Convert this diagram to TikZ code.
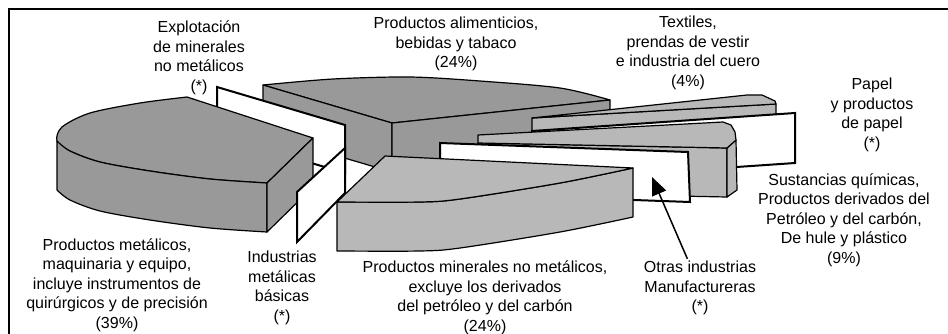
\documentclass[tikz,border=0pt]{standalone}
\usepackage{fontspec}
\setmainfont{Liberation Sans}
\usetikzlibrary{arrows.meta}
\definecolor{piedark}{gray}{0.6}
\definecolor{pielight}{gray}{0.72}
\tikzstyle{dark} = [draw, fill=piedark, line width=1.2pt, line join=round]
\tikzstyle{light} = [draw, fill=pielight, line width=1.2pt, line join=round]
\tikzstyle{panel} = [draw, fill=white, line width=2pt]
\tikzstyle{txt} = [align=center, font=\fontsize{16}{19.5}\selectfont, inner sep=2pt]
\tikzstyle{line} = [draw, line width=1.5pt, -{Triangle[length=18pt,width=15pt]}]
\begin{document}
\begin{tikzpicture}[x=1pt, y=-1pt]
    \useasboundingbox (0,0) rectangle (948,333);
    \clip (0,0) rectangle (948,333);
    \draw[line width=1.5pt] (9,345) -- (9,9) -- (960,9);
    \path[dark] (392,123) -- (263,85) -- plot[smooth] coordinates {(263,85) (333,79) (410,77) (480,81) (560,88) (610,100)} -- cycle;
    \path[dark] (263,85) -- (392,123) -- (392,172) -- (263,134) -- cycle;
    \path[dark] (392,123) -- (610,100) -- (610,149) -- (392,172) -- cycle;
    \path[light] (532,118) -- (776,104) -- (776,152) -- (532,166) -- cycle;
    \path[light] (532,118) -- (747,95) -- (762,95) -- (775,101) -- (776,104) -- cycle;
    \path[panel] (532,131) -- (795,113) -- (795,163) -- (532,181) -- cycle;
    \path[light] (478,143) -- (727,148) -- (727,197) -- (478,192) -- cycle;
    \path[light] (727,148) -- (736,140) -- (737,190) -- (727,197) -- cycle;
    \path[light] (478,135) -- (723,122) -- (731,125) -- (735,132) -- (736,140) -- (727,148) -- (478,143) -- cycle;
    \path[panel] (440,143) -- (688,152) -- (690,202) -- (440,193) -- cycle;
    \path[light] plot[smooth] coordinates {(337,202) (420,202) (460,199) (560,183) (633,168)} -- (633,217) -- plot[smooth] coordinates {(633,217) (560,232) (460,248) (420,251) (337,251)} -- cycle;
    \path[light] (385,156) -- (337,202) -- plot[smooth] coordinates {(337,202) (420,202) (460,199) (560,183) (633,168)} -- cycle;
    \path[panel] (217,87) -- (345,125) -- (345,173) -- (217,135) -- cycle;
    \path[dark] (313,138) -- (187,97) -- plot[smooth] coordinates {(187,97) (140,103) (90,113) (62,127) (57,141) (70,151) (100,162) (150,171) (210,179) (267,183)} -- cycle;
    \path[dark] plot[smooth] coordinates {(57,141) (70,151) (100,162) (150,171) (210,179) (267,183)} -- (267,232) -- plot[smooth] coordinates {(267,232) (210,228) (150,220) (100,211) (70,200) (57,190)} -- cycle;
    \path[dark] (267,183) -- (313,138) -- (313,187) -- (267,232) -- cycle;
    \path[panel] (297,192) -- (345,148) -- (345,193) -- (297,242) -- cycle;
    \node[txt] (explot) at (199,58) {Explotación\\de minerales\\no metálicos\\(*)};
    \node[txt] (alim) at (456,44) {Productos alimenticios,\\bebidas y tabaco\\(24\%)};
    \node[txt] (textil) at (688,53) {Textiles,\\prendas de vestir\\e industria del cuero\\(4\%)};
    \node[txt] (papel) at (872,115) {Papel\\y productos\\de papel\\(*)};
    \node[txt] (sust) at (844,220) {Sustancias químicas,\\Productos derivados del\\Petróleo y del carbón,\\De hule y plástico\\(9\%)};
    \node[txt] (otras) at (700,288) {Otras industrias\\Manufactureras\\(*)};
    \node[txt] (miner) at (485,298) {Productos minerales no metálicos,\\excluye los derivados\\del petróleo y del carbón\\(24\%)};
    \node[txt] (metal) at (117,285) {Productos metálicos,\\maquinaria y equipo,\\incluye instrumentos de\\quirúrgicos y de precisión\\(39\%)};
    \node[txt] (indus) at (282,288) {Industrias\\metálicas\\básicas\\(*)};
    \coordinate (otrastip) at (652,177);
    \path[line] (otras) -- (otrastip);
\end{tikzpicture}
\end{document}
